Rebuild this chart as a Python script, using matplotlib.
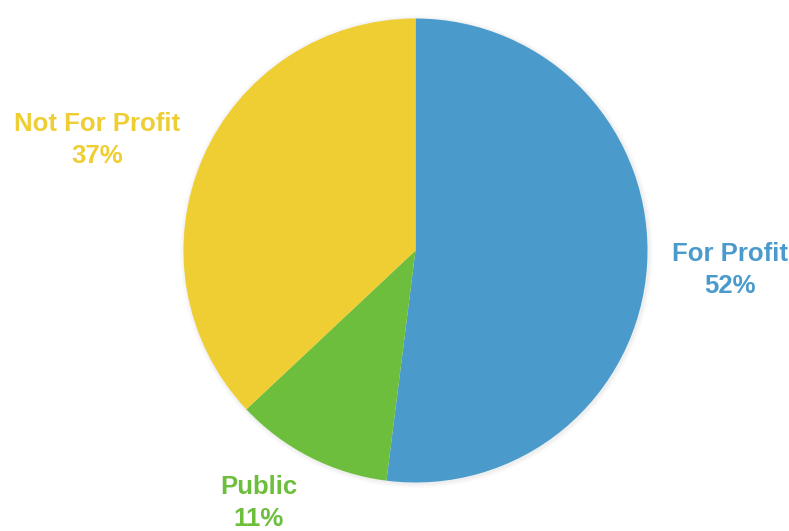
import matplotlib
matplotlib.use("Agg")
import matplotlib.pyplot as plt
from matplotlib.patches import Circle

categories = ["For Profit", "Public", "Not For Profit"]
shares = [52, 11, 37]
colors = ["#4A9BCB", "#6DBE3C", "#EFCE33"]

W, H = 789, 531
fig = plt.figure(figsize=(W / 100, H / 100), dpi=100)
ax = fig.add_axes([0, 0, 1, 1])

cx, cy, r = 415.5, H - 250.5, 232

# soft shadow
for i, a in enumerate([0.05, 0.04, 0.03]):
    ax.add_patch(Circle((cx + 1, cy - 1), r + 1.5 + i * 1.5, color="#888888",
                        alpha=a, lw=0, zorder=0))

ax.pie(shares, colors=colors, startangle=90, counterclock=False,
       center=(cx, cy), radius=r, wedgeprops=dict(linewidth=0),
       frame=False)

label_pos = {"For Profit": (730, H - 270), "Public": (259, H - 503),
             "Not For Profit": (97, H - 140)}
for cat, val, col in zip(categories, shares, colors):
    x, y = label_pos[cat]
    ax.text(x, y, f"{cat}\n{val}%", ha="center", va="center", color=col,
            fontsize=18.5, fontweight="bold", family="Liberation Sans",
            linespacing=1.45)

ax.set_xlim(0, W)
ax.set_ylim(0, H)
ax.set_aspect("auto")
ax.axis("off")
fig.savefig("out.png", dpi=100, facecolor="white")
